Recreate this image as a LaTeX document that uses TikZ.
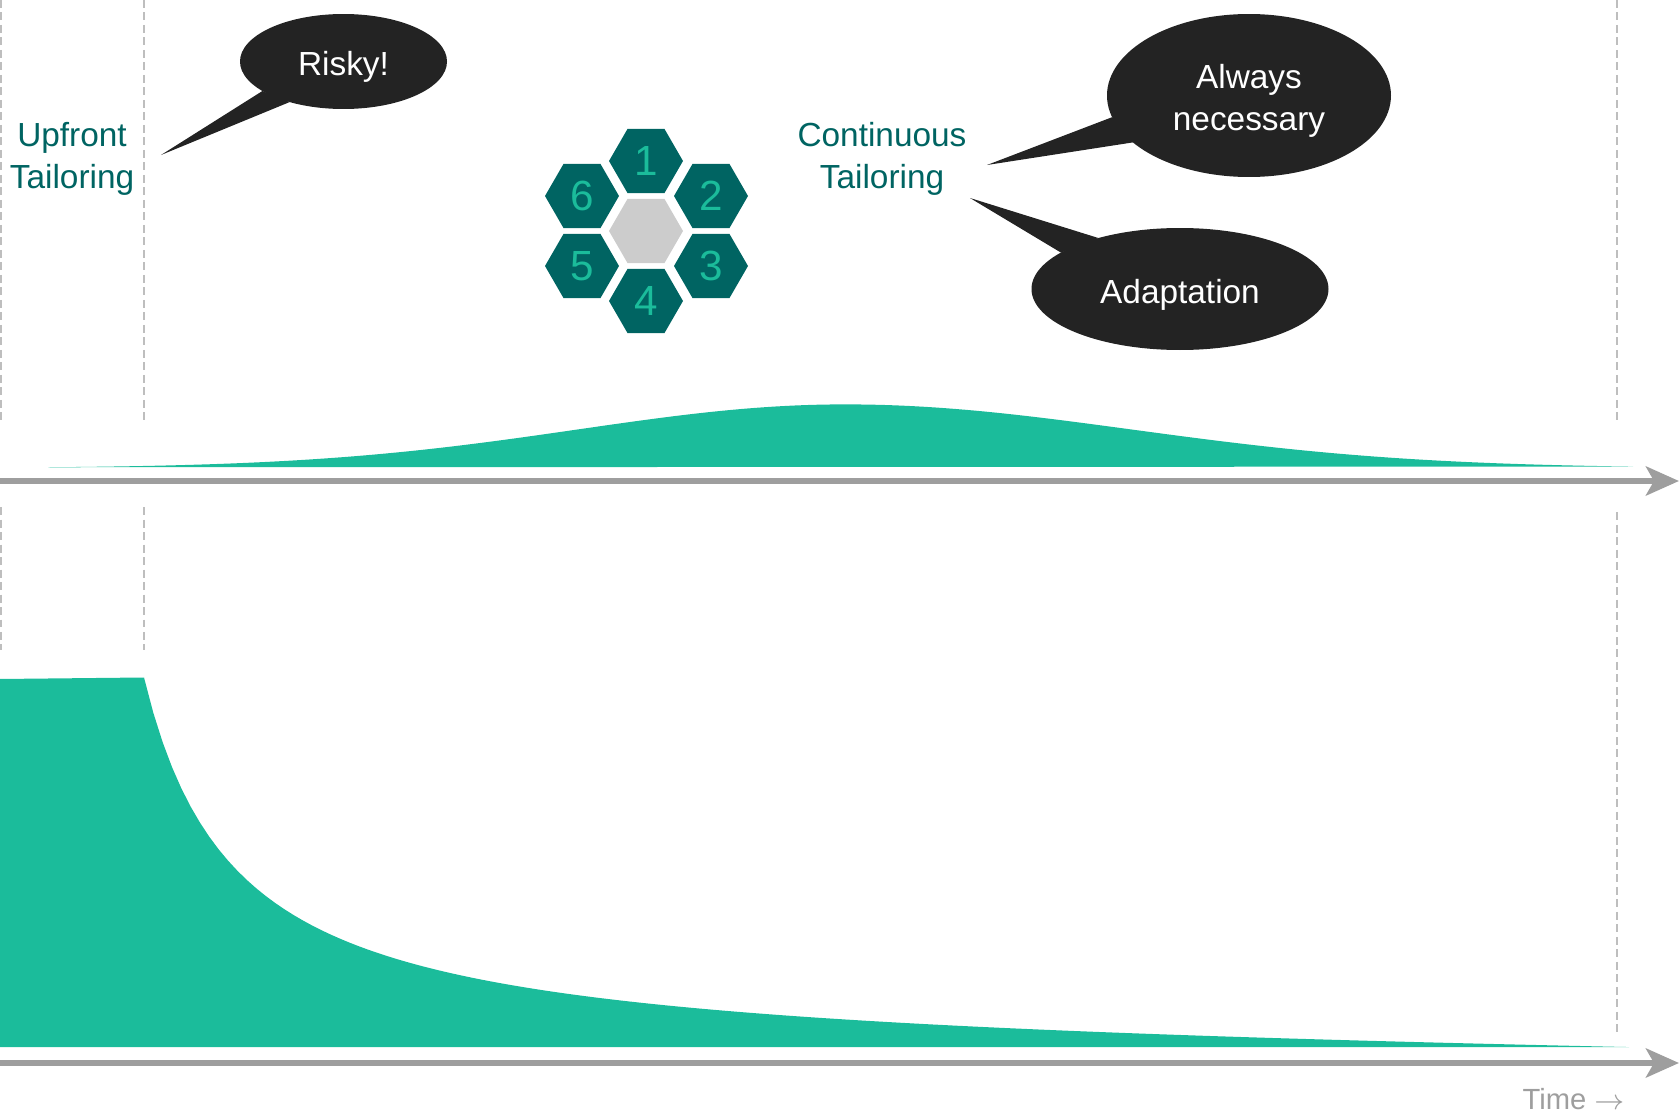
\documentclass[tikz,border=0pt]{standalone}
\usepackage{fontspec}
\setmainfont{Liberation Sans}
\usepackage{tikz}
\usetikzlibrary{positioning,arrows.meta,shapes.geometric}
\definecolor{tailteal}{RGB}{0,100,98}
\definecolor{mintgreen}{RGB}{27,188,155}
\definecolor{bubbleink}{RGB}{35,35,35}
\definecolor{hubgray}{RGB}{204,204,204}
\definecolor{axisgray}{RGB}{158,158,158}
\definecolor{guidegray}{RGB}{190,190,190}

\begin{document}
\begin{tikzpicture}[x=0.1mm,y=-0.1mm,
   hexa/.style={regular polygon,regular polygon sides=6,minimum size=7.4mm,inner sep=0pt,outer sep=0pt,
               fill=tailteal,text=mintgreen,font=\fontsize{12}{14}\selectfont},
   hub/.style={hexa,fill=hubgray},
   bubble/.style={ellipse,fill=bubbleink,inner sep=0pt,outer sep=0pt},
   bubbletext/.style={text=white,align=center,yshift=-0.55mm,font=\fontsize{9.5}{11.9}\selectfont},
   phase/.style={text=tailteal,align=center,font=\fontsize{9.5}{11.9}\selectfont},
   guide/.style={draw=guidegray,line width=0.35pt,dash pattern=on 0.8mm off 0.45mm},
   timeaxis/.style={draw=axisgray,line width=0.6mm,-{Stealth[length=3.3mm,width=2.9mm,inset=0.8mm]}},
   effort/.style={fill=mintgreen}]
  \useasboundingbox (0,0) rectangle (1680,1116);
  % effort curves
  \fill[effort] plot[domain=48:845,samples=80] (\x,{468-63.6*exp(-0.5*((\x-845)/267)*((\x-845)/267))})
        -- plot[domain=845:1633,samples=80] (\x,{468-63.6*exp(-0.5*((\x-845)/286)*((\x-845)/286))})
        -- cycle;
  \fill[effort] (0,1047) -- (0,679) -- (144,677.5)
        -- plot[domain=0:1485,samples=160] (\x+144,{1047-(347.15/((\x+91.2)/100)-11.1-0.0074*\x)})
        -- cycle;
  % phase borders
  \draw[guide] (1,0) -- (1,423);
  \draw[guide] (144,0) -- (144,423);
  \draw[guide] (1617,0) -- (1617,423);
  \draw[guide] (1,507) -- (1,650);
  \draw[guide] (144,507) -- (144,650);
  \draw[guide] (1617,512) -- (1617,1035);
  % time axes
  \coordinate (upstart) at (0,481);
  \coordinate (upend) at (1679,481);
  \coordinate (lowstart) at (0,1063);
  \coordinate (lowend) at (1679,1063);
  \draw[timeaxis] (upstart) -- (upend);
  \draw[timeaxis] (lowstart) -- (lowend);
  \node[font=\fontsize{8.3}{10}\selectfont,text=axisgray,anchor=base east,inner sep=0pt] (timelbl)
        at (1625,1109) {Time $\rightarrow$};
  \node[phase] (upfront) at (72,159) {Upfront\\Tailoring};
  \node[phase] (continuous) at (882,159) {Continuous\\Tailoring};
  % hexagons
  \node[hub] (core) at (646,231) {};
  \node[hexa] (h1) at (646,161) {1};
  \node[hexa] (h2) at (711,196) {2};
  \node[hexa] (h3) at (711,266) {3};
  \node[hexa] (h4) at (646,301) {4};
  \node[hexa] (h5) at (582,266) {5};
  \node[hexa] (h6) at (582,196) {6};
  % speech bubbles
  \node[bubble,minimum width=20.7mm,minimum height=9.5mm] (risky) at (343.5,61.5) {};
  \node[bubble,minimum width=28.4mm,minimum height=16.3mm] (always) at (1249,95.5) {};
  \node[bubble,minimum width=29.7mm,minimum height=12.2mm] (adapt) at (1180,289) {};
  \coordinate (riskytip) at (161,155);
  \coordinate (alwaystip) at (987,165);
  \coordinate (adapttip) at (970,198);
  \fill[bubbleink] (riskytip) -- (risky.200) -- (risky.217) -- cycle;
  \fill[bubbleink] (alwaystip) -- (always.189) -- (always.202) -- cycle;
  \fill[bubbleink] (adapttip) -- (adapt.148) -- (adapt.163) -- cycle;
  \node[bubbletext] (riskytxt) at (risky.center) {Risky!};
  \node[bubbletext] (alwaystxt) at (always.center) {Always\\necessary};
  \node[bubbletext] (adapttxt) at (adapt.center) {Adaptation};
\end{tikzpicture}
\end{document}
